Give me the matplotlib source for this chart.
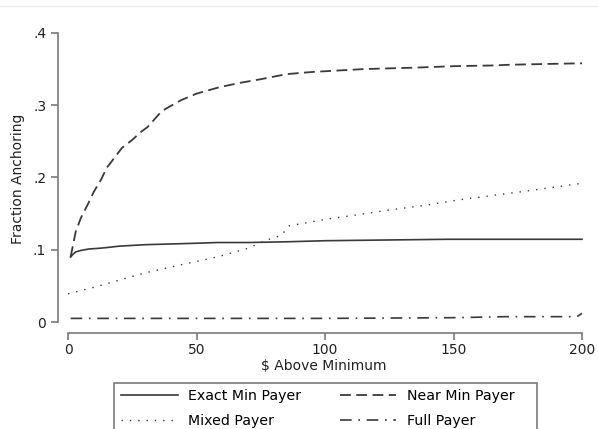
import numpy as np
import matplotlib
matplotlib.use('Agg')
import matplotlib.pyplot as plt
from matplotlib.lines import Line2D
from matplotlib.patches import Rectangle

# values
exact_x = [1, 2, 3, 5, 8, 12, 15, 20, 25, 30, 40, 50, 58, 70, 85, 100, 148, 200]
exact_y = [.09, .094, .097, .099, .101, .102, .103, .105, .106, .107, .108, .109,
           .110, .110, .111, .1125, .1145, .1145]

near_x = [1, 3, 5, 8, 10, 13, 15, 18, 21, 25, 28, 31, 34, 36, 38, 44, 50, 59, 67,
          75, 85, 95, 105, 115, 125, 135, 150, 165, 172, 185, 200]
near_y = [.09, .125, .144, .165, .18, .198, .213, .227, .241, .252, .262, .27, .282,
          .29, .295, .307, .316, .325, .331, .336, .343, .346, .348, .350, .351,
          .352, .354, .355, .356, .357, .358]

mixed_x = [0, 10, 20, 30, 35, 45, 58, 70, 77, 83, 86, 100, 110, 125, 140, 152,
           165, 180, 190, 200]
mixed_y = [.039, .048, .058, .068, .072, .08, .09, .102, .113, .12, .133, .142,
           .147, .155, .162, .169, .175, .182, .187, .192]

full_x = [1, 50, 100, 150, 170, 198, 200]
full_y = [.005, .005, .005, .006, .0074, .0074, .012]

xticks = [0, 50, 100, 150, 200]
yticks = [0, .1, .2, .3, .4]
ytick_labels = ['0', '.1', '.2', '.3', '.4']

line_color = '#3a3a3a'
axis_color = '#7a7a7a'
W, H = 598, 429

fig = plt.figure(figsize=(W / 100, H / 100), dpi=100)
ax = fig.add_axes([58 / W, 1 - 333 / H, (590 - 58) / W, (333 - 25) / H])

ax.plot(exact_x, exact_y, color=line_color, lw=1.2, label='Exact Min Payer')
ax.plot(mixed_x, mixed_y, color=line_color, lw=1.0, linestyle=(0, (1, 5)),
        label='Mixed Payer')
ax.plot(near_x, near_y, color=line_color, lw=1.3, linestyle=(0, (6, 3)),
        label='Near Min Payer')
ax.plot(full_x, full_y, color=line_color, lw=1.2, linestyle=(0, (7, 4, 1, 4)),
        label='Full Payer')

ax.set_xlim(-3.9, 203.1)
ax.set_ylim(-0.0152, 0.411)

for s in ['top', 'right']:
    ax.spines[s].set_visible(False)
ax.spines['left'].set_bounds(0, 0.4)
ax.spines['bottom'].set_bounds(0, 200)
for s in ['left', 'bottom']:
    ax.spines[s].set_color(axis_color)
    ax.spines[s].set_linewidth(1.2)

ax.set_xticks(xticks)
ax.set_yticks(yticks)
ax.set_yticklabels(ytick_labels)
ax.tick_params(colors=axis_color, labelcolor='#222222', labelsize=10,
               length=5, width=1.2)
ax.tick_params(axis='x', pad=2)

ax.set_xlabel('\\$ Above Minimum', fontsize=10, color='#222222', labelpad=2)
ax.set_ylabel('Fraction Anchoring', fontsize=10, color='#222222', labelpad=6)

leg = fig.legend(loc='upper left', bbox_to_anchor=(121 / W, 1 - 389 / H),
                 ncol=2, fontsize=10.2, frameon=False,
                 handlelength=4.0, handletextpad=0.75, columnspacing=2.7,
                 borderpad=0, borderaxespad=0, labelspacing=0.75)

# legend box (runs off the bottom edge like the reference)
fig.add_artist(Rectangle((114 / W, -0.05), (537 - 114) / W, (429 - 383) / H + 0.05,
                         transform=fig.transFigure, fill=False,
                         edgecolor=axis_color, lw=1.2))

# faint frame line at top
fig.add_artist(Line2D([0, 1], [1 - 6 / H, 1 - 6 / H], color='#eeeeee', lw=1,
                      transform=fig.transFigure))

fig.savefig('out.png', dpi=100)
